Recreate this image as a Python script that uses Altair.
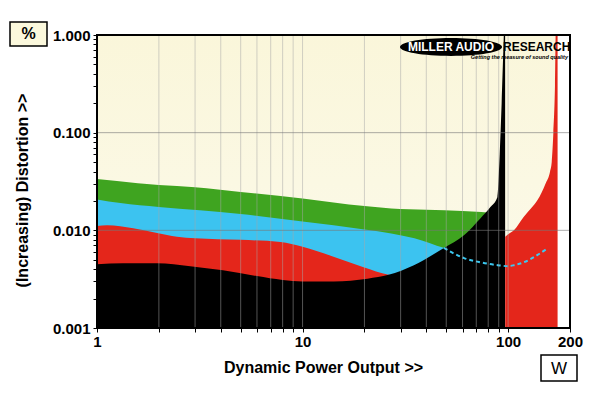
import altair as alt
import pandas as pd

# ---- data ----
green_x = [1, 1.25, 2, 3, 5, 10, 20, 27, 40, 60, 74, 85]
green_y = [0.0336, 0.0320, 0.0291, 0.0276, 0.0247, 0.0212, 0.0177, 0.0167, 0.0162, 0.0158, 0.0154, 0.0150]

blue_x = [1, 1.3, 2, 5, 10, 20, 27, 35, 49, 60]
blue_y = [0.0207, 0.0190, 0.0173, 0.0147, 0.0123, 0.0102, 0.0093, 0.0083, 0.0066, 0.0060]

red_x = [1, 1.12, 1.5, 1.96, 2.45, 3, 5, 7.8, 10, 13.7, 19.8, 26.2, 30]
red_y = [0.0111, 0.0113, 0.0105, 0.0094, 0.0086, 0.0083, 0.0080, 0.0076, 0.0068, 0.0055, 0.0042, 0.0035, 0.0033]

black_x = [1, 1.34, 1.96, 2.84, 4.1, 6.0, 8, 10, 14.2, 20.7, 26.2, 34.8, 48.7, 61, 73.6, 82, 88.7, 91, 93, 95, 96, 96.7]
black_y = [0.0045, 0.0046, 0.0046, 0.0043, 0.0039, 0.0034, 0.0031, 0.0030, 0.0030, 0.0032, 0.0035, 0.0044,
           0.0066, 0.0089, 0.0134, 0.0173, 0.0220, 0.060, 0.20, 0.80, 1.5, 1.5]

red2_x = [96.8, 100, 107, 119, 130, 139, 152, 160, 163, 166, 169, 171, 174]
red2_y = [0.0086, 0.0091, 0.0101, 0.0137, 0.0170, 0.0204, 0.030, 0.040, 0.050, 0.10, 0.30, 1.5, 1.5]

dash_x = [48.7, 61, 73.6, 89, 100, 107, 119, 139, 153]
dash_y = [0.0066, 0.0052, 0.0047, 0.0044, 0.0043, 0.0044, 0.0047, 0.0056, 0.0064]

bg_x = [1, 174]
bg_y = [0.001, 1]

x_ticks = [1, 2, 3, 4, 5, 6, 7, 8, 9, 10, 20, 30, 40, 50, 60, 70, 80, 90, 100, 200]
x_labels = [1, 10, 100, 200]
y_ticks = [0.001, 0.002, 0.003, 0.004, 0.005, 0.006, 0.007, 0.008, 0.009,
           0.01, 0.02, 0.03, 0.04, 0.05, 0.06, 0.07, 0.08, 0.09,
           0.1, 0.2, 0.3, 0.4, 0.5, 0.6, 0.7, 0.8, 0.9, 1]
y_labels = [0.001, 0.01, 0.1, 1]
vgrid = [2, 3, 4, 5, 6, 7, 8, 9, 10, 20, 30, 40, 50, 60, 70, 80, 90, 100]
hgrid = [0.01, 0.1]

W, H = 473, 293
FONT = "Liberation Sans"

XS = alt.Scale(type="log", domain=[1, 200])
YS = alt.Scale(type="log", domain=[0.001, 1])


def df(xs, ys):
    return pd.DataFrame({"x": xs, "y": ys})


x_axis = alt.Axis(
    values=x_ticks,
    labelExpr="indexof(%s, datum.value) >= 0 ? datum.value : ''" % str(x_labels),
    grid=False, domain=False, tickSize=4, tickColor="black", tickWidth=1,
    labelFont=FONT, labelFontWeight="bold", labelFontSize=15, labelColor="black",
    labelPadding=2, labelOverlap=False, labelFlush=False,
    title="Dynamic Power Output >>", titleFont=FONT, titleFontWeight="bold",
    titleFontSize=16, titleColor="black", titleX=226, titleY=39,
    titleAlign="center", titleBaseline="middle",
)
y_axis = alt.Axis(
    values=y_ticks,
    labelExpr="indexof(%s, datum.value) >= 0 ? format(datum.value, '.3f') : ''" % str(y_labels),
    grid=False, domain=False, tickSize=4, tickColor="black", tickWidth=1,
    labelFont=FONT, labelFontWeight="bold", labelFontSize=15, labelColor="black",
    labelPadding=3, labelOverlap=False, labelFlush=False,
    title="(Increasing) Distortion >>", titleFont=FONT, titleFontWeight="bold",
    titleFontSize=16, titleColor="black", titleX=-75, titleY=155, titleAngle=270,
    titleAlign="center", titleBaseline="middle",
)


def X(f="x:Q"):
    return alt.X(f, scale=XS, axis=x_axis)


def Y(f="y:Q"):
    return alt.Y(f, scale=YS, axis=y_axis)


bg = alt.Chart(pd.DataFrame({"x": [bg_x[0]], "x2": [bg_x[1]], "y": [bg_y[1]], "y2": [bg_y[0]]})).mark_rect(
    color=alt.Gradient(
        gradient="linear", x1=0, x2=0, y1=0, y2=1,
        stops=[alt.GradientStop(color="#FAF6DA", offset=0),
               alt.GradientStop(color="#FCFAEC", offset=1)],
    )
).encode(x=X(), x2="x2:Q", y=Y(), y2="y2:Q")


def area(xs, ys, color):
    return alt.Chart(df(xs, ys)).mark_area(color=color, interpolate="monotone", clip=True).encode(
        x=X(), y=Y(), y2=alt.datum(0.001),
    )


green = area(green_x, green_y, "#3FA420")
blue = area(blue_x, blue_y, "#3CC3F0")
red = area(red_x, red_y, "#E4261B")
black = area(black_x, black_y, "#000000")
red2 = area(red2_x, red2_y, "#E4261B")

dash = alt.Chart(df(dash_x, dash_y)).mark_line(
    color="#3CC8F0", strokeWidth=2, strokeDash=[4, 3], interpolate="monotone", clip=True
).encode(x=X(), y=Y())

vg = alt.Chart(pd.DataFrame({"x": vgrid})).mark_rule(color="#A8A8A8", opacity=0.5, strokeWidth=1).encode(
    x=X())
hg = alt.Chart(pd.DataFrame({"y": hgrid})).mark_rule(color="#777777", opacity=0.6, strokeWidth=1).encode(
    y=Y())

one = pd.DataFrame({"a": [0]})
border = alt.Chart(one).mark_rect(fillOpacity=0, stroke="black", strokeWidth=2).encode(
    x=alt.value(0), x2=alt.value(W), y=alt.value(0), y2=alt.value(H))

pct_box = alt.Chart(one).mark_rect(fill="#FBF8DC", stroke="black", strokeWidth=1.5).encode(
    x=alt.value(-87), x2=alt.value(-50), y=alt.value(-13), y2=alt.value(11))
pct_txt = alt.Chart(one).mark_text(text="%", font=FONT, fontWeight="bold", fontSize=16, color="black",
                                   baseline="middle", align="center").encode(
    x=alt.value(-68.5), y=alt.value(-1))
w_box = alt.Chart(one).mark_rect(fill="white", stroke="black", strokeWidth=1.5).encode(
    x=alt.value(444), x2=alt.value(480), y=alt.value(320), y2=alt.value(346))
w_txt = alt.Chart(one).mark_text(text="W", font=FONT, fontWeight="normal", fontSize=17, color="black",
                                 baseline="middle", align="center").encode(
    x=alt.value(462), y=alt.value(334))

ellipse = alt.Chart(one).mark_point(
    shape="M-1,0A1,0.175 0 1,0 1,0A1,0.175 0 1,0 -1,0Z", filled=True, color="black", opacity=1, size=10404
).encode(x=alt.value(354), y=alt.value(12))
logo1 = alt.Chart(one).mark_text(text="MILLER AUDIO", font=FONT, fontWeight="bold", fontSize=12,
                                 color="white", align="center", baseline="middle").encode(
    x=alt.value(354), y=alt.value(12))
logo2 = alt.Chart(one).mark_text(text="RESEARCH", font=FONT, fontWeight="bold", fontSize=12,
                                 color="black", align="left", baseline="middle").encode(
    x=alt.value(406), y=alt.value(12))
logo3 = alt.Chart(one).mark_text(text="Getting the measure of sound quality", font=FONT, fontWeight="bold",
                                 fontStyle="italic", fontSize=5.5, color="black", align="right",
                                 baseline="middle").encode(
    x=alt.value(471), y=alt.value(22))

chart = alt.layer(
    bg, green, blue, red, black, red2, dash, vg, hg, border,
    pct_box, pct_txt, w_box, w_txt, ellipse, logo1, logo2, logo3,
).properties(
    width=W, height=H,
    autosize=alt.AutoSizeParams(type="none"),
    padding={"left": 89, "top": 27, "right": 22, "bottom": 57},
    background="white",
).configure_view(stroke=None)

chart.save("out.html", embed_options={"renderer": "svg", "actions": False})
